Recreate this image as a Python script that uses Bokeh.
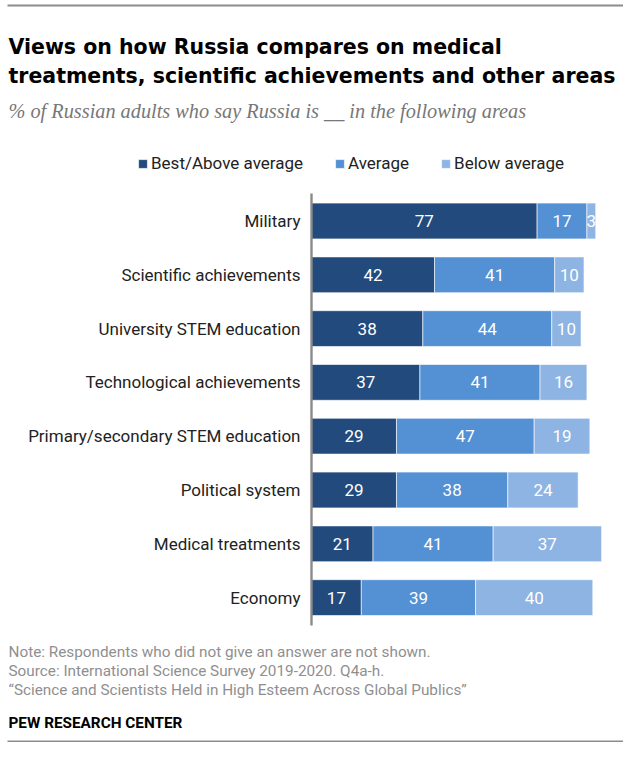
from bokeh.plotting import figure
from bokeh.models import Range1d, ColumnDataSource, Legend, LegendItem
from bokeh.core.properties import value
from bokeh.embed import file_html
from bokeh.resources import INLINE

# ---- data ----
categories = ["Military", "Scientific achievements", "University STEM education",
              "Technological achievements", "Primary/secondary STEM education",
              "Political system", "Medical treatments", "Economy"]
best_above = [77, 42, 38, 37, 29, 29, 21, 17]
average = [17, 41, 44, 41, 47, 38, 41, 39]
below = [3, 10, 10, 16, 19, 24, 37, 40]
series_names = ["Best/Above average", "Average", "Below average"]
series_colors = ["#234a7c", "#5390d4", "#8db4e2"]

title_lines = ["Views on how Russia compares on medical",
               "treatments, scientific achievements and other areas"]
subtitle = "% of Russian adults who say Russia is __ in the following areas"
notes = ["Note: Respondents who did not give an answer are not shown.",
         "Source: International Science Survey 2019-2020. Q4a-h.",
         "\u201cScience and Scientists Held in High Esteem Across Global Publics\u201d"]
credit = "PEW RESEARCH CENTER"

W, H = 623, 742
X0 = 311.0          # pixel where 0% sits
PX_PER_UNIT = 2.93
ROW0 = 220.5        # pixel center of first row
ROW_STEP = 53.8

FONT = "Roboto"

p = figure(width=W, height=H, output_backend="svg", toolbar_location=None,
           min_border=0, x_axis_location=None, y_axis_location=None,
           outline_line_color=None, background_fill_color="white",
           x_range=Range1d(-X0 / PX_PER_UNIT, (W - X0) / PX_PER_UNIT),
           y_range=Range1d((H - ROW0) / ROW_STEP, -ROW0 / ROW_STEP))
p.grid.visible = False
p.extra_x_ranges = {"px": Range1d(0, W)}
p.extra_y_ranges = {"px": Range1d(H, 0)}

idx = list(range(len(categories)))
left1 = [0] * len(idx)
right1 = best_above
left2 = right1
right2 = [a + b for a, b in zip(best_above, average)]
left3 = right2
right3 = [a + b + c for a, b, c in zip(best_above, average, below)]

renderers = []
for (l, r, vals, col) in [(left1, right1, best_above, series_colors[0]),
                          (left2, right2, average, series_colors[1]),
                          (left3, right3, below, series_colors[2])]:
    src = ColumnDataSource(dict(y=idx, left=l, right=r,
                                mid=[(a + b) / 2 for a, b in zip(l, r)],
                                lab=[str(v) for v in vals]))
    rr = p.hbar(y="y", left="left", right="right", height=0.665, source=src,
                fill_color=col, line_color="white", line_width=0.6)
    renderers.append(rr)
    p.text(x="mid", y="y", text="lab", source=src, text_color="white",
           text_align="center", text_baseline="middle",
           text_font=value(FONT), text_font_size="17px")

# axis line
p.segment(x0=[0], x1=[0], y0=[-0.51], y1=[len(idx) - 0.48],
          line_color="#8a8a8a", line_width=2.4)

# category labels
p.text(x=[X0 - 11] * len(idx), y=idx, text=categories, x_range_name="px",
       text_align="right", text_baseline="middle", text_color="#222222",
       text_font=value(FONT), text_font_size="17px")

# titles
p.text(x=[8, 8], y=[46, 75], text=title_lines, x_range_name="px", y_range_name="px",
       text_align="left", text_baseline="alphabetic", text_color="#000000",
       text_font=value("DejaVu Sans"), text_font_size="20.5px", text_font_style="bold")
p.text(x=[8], y=[110], text=[subtitle], x_range_name="px", y_range_name="px",
       text_align="left", text_baseline="alphabetic", text_color="#777777",
       text_font=value("Liberation Serif"), text_font_size="20.3px",
       text_font_style="italic")

# notes
p.text(x=[8, 8, 8], y=[651, 670, 689], text=notes, x_range_name="px", y_range_name="px",
       text_align="left", text_baseline="middle", text_color="#8f8f8f",
       text_font=value(FONT), text_font_size="15.3px")
p.text(x=[8], y=[722], text=[credit], x_range_name="px", y_range_name="px",
       text_align="left", text_baseline="middle", text_color="#000000",
       text_font=value(FONT), text_font_size="15.3px", text_font_style="bold")

# frame lines
p.segment(x0=[7, 7], x1=[W, W], y0=[5, 741], y1=[5, 741], x_range_name="px",
          y_range_name="px", line_color="#8c8c8c", line_width=2)

legend = Legend(items=[LegendItem(label=n, renderers=[r]) for n, r in zip(series_names, renderers)],
                orientation="horizontal", location=(137, H - 173),
                glyph_width=11, glyph_height=11, label_standoff=3, spacing=31,
                padding=0, margin=0, border_line_color=None, background_fill_alpha=0,
                label_text_font=FONT, label_text_font_size="17px",
                label_text_color="#222222", label_height=20)
p.add_layout(legend)

open("out.html", "w").write(file_html(p, INLINE))
